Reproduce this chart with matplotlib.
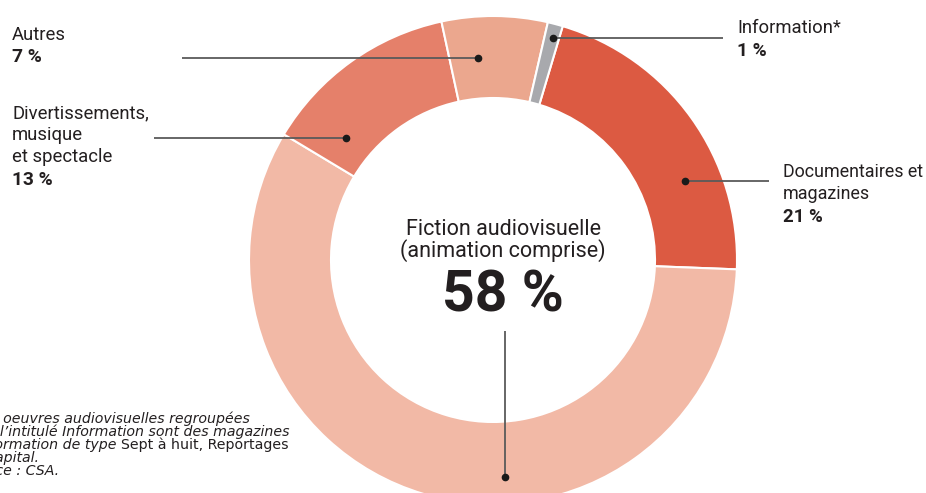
import numpy as np
import matplotlib
matplotlib.use('Agg')
import matplotlib.pyplot as plt

# slice data, clockwise from just right of 12 o'clock
categories = ['Documentaires et\nmagazines', 'Fiction audiovisuelle\n(animation comprise)',
              'Divertissements,\nmusique\net spectacle', 'Autres', 'Information*']
shares = [21, 58, 13, 7, 1]
colors = ['#DC5A42', '#F2B9A6', '#E5806A', '#EBA78E', '#A8A9AD']

footnote = [
    ('* Les ', 'oeuvres audiovisuelles regroupées', None),
    ('sous ', 'l\u2019intitulé Information sont des magazines', None),
    ('d\u2019inf', 'ormation de type ', 'Sept à huit, Reportages'),
    ('ou C', 'apital.', None),
    ('Sour', 'ce : CSA.', None),
]

W, H = 926, 493
LAB = ['Roboto', 'Liberation Sans', 'DejaVu Sans']
TXT = '#231f20'
LINE = '#5a5a5a'

fig = plt.figure(figsize=(W / 100, H / 100), dpi=100)
ax = fig.add_axes([0, 0, 1, 1])

cx, cy, r_out, r_in = 493, 260, 244, 162
# y axis is inverted below, so counterclock=True draws clockwise on screen
ax.pie(shares, colors=colors, radius=r_out, center=(cx, cy),
       startangle=-90 + 16.6, counterclock=True,
       wedgeprops=dict(width=r_out - r_in, edgecolor='white', linewidth=1.5))
ax.set_xlim(0, W)
ax.set_ylim(H, 0)
ax.set_aspect('auto')
ax.axis('off')


def leader(x0, x1, y0, y1, dot):
    ax.plot([x0, x1], [y0, y1], color=LINE, lw=1.3, solid_capstyle='butt', zorder=3)
    ax.plot(*dot, 'o', ms=4.5, color='#1a1a1a', zorder=4)


leader(182, 478, 58, 58, (478, 58))      # Autres
leader(553, 723, 38, 38, (553, 38))      # Information
leader(685, 769, 181, 181, (685, 181))   # Documentaires
leader(154, 346, 138, 138, (346, 138))   # Divertissements
leader(505, 505, 331, 477, (505, 477))   # Fiction


def label(x, baselines, lines, pct, size=13.3):
    for yb, s in zip(baselines[:-1], lines):
        ax.text(x, yb, s, family=LAB, fontsize=size, color=TXT, va='baseline', ha='left')
    ax.text(x, baselines[-1], f'{pct} %', family=LAB, fontsize=size + 0.5, fontweight='bold',
            color=TXT, va='baseline', ha='left')


label(12, [40, 62], categories[3].split('\n'), shares[3])
label(12, [118, 140, 162, 185], categories[2].split('\n'), shares[2])
label(737, [33, 56], categories[4].split('\n'), shares[4])
label(783, [177, 199, 222], categories[0].split('\n'), shares[0], size=12.9)

fic = categories[1].split('\n')
ax.text(503, 235, fic[0], family=LAB, fontsize=15.5, color=TXT, va='baseline', ha='center')
ax.text(503, 257, fic[1], family=LAB, fontsize=15.5, color=TXT, va='baseline', ha='center')
ax.text(503, 312, f'{shares[1]} %', family=LAB, fontsize=41, fontweight='bold',
        color=TXT, va='baseline', ha='center')

# footnote, left part runs off the canvas as in the original
rend = fig.canvas.get_renderer()
fn_kw = dict(family='DejaVu Sans', fontsize=10.2, color=TXT, va='baseline', ha='left')
x0 = -37
for yb, (hidden, ital, plain) in zip([423, 436, 449, 462, 475], footnote):
    t = ax.text(x0, yb, hidden + ital, style='italic', **fn_kw)
    if plain:
        bb = t.get_window_extent(renderer=rend)
        ax.text(bb.x1, yb, plain, **fn_kw)

fig.savefig('out.png', dpi=100)
